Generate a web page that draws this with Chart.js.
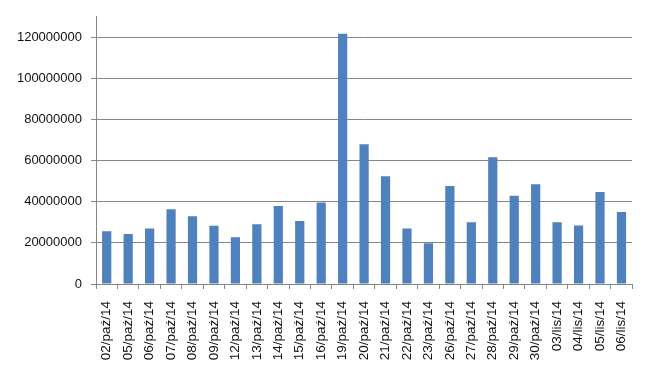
<!DOCTYPE html>
<html>
<head>
<meta charset="utf-8">
<script src="https://cdn.jsdelivr.net/npm/chart.js@4"></script>
<style>
html,body{margin:0;padding:0;background:#fff;}
#wrap{width:650px;height:375px;position:relative;}
</style>
</head>
<body>
<div id="wrap"><canvas id="c" width="650" height="375"></canvas></div>
<script>
const categories = ["02/paź/14","05/paź/14","06/paź/14","07/paź/14","08/paź/14","09/paź/14","12/paź/14","13/paź/14","14/paź/14","15/paź/14","16/paź/14","19/paź/14","20/paź/14","21/paź/14","22/paź/14","23/paź/14","26/paź/14","27/paź/14","28/paź/14","29/paź/14","30/paź/14","03/lis/14","04/lis/14","05/lis/14","06/lis/14"];
const values = [25700000,24300000,27000000,36400000,33000000,28300000,22700000,29100000,38000000,30600000,39700000,121700000,68000000,52400000,27000000,19800000,47700000,30100000,61700000,42900000,48500000,30100000,28500000,44700000,35000000];
const yTicks = [0,20000000,40000000,60000000,80000000,100000000,120000000];
const yMax = 130000000;

new Chart(document.getElementById('c'), {
  type: 'bar',
  data: {
    labels: categories,
    datasets: [{
      data: values,
      backgroundColor: '#4F81BD',
      borderWidth: 0,
      barPercentage: 0.43,
      categoryPercentage: 1.0
    }]
  },
  options: {
    responsive: false,
    animation: false,
    layout: { padding: { left: 0, right: 17, top: 16, bottom: 0 } },
    plugins: { legend: { display: false }, tooltip: { enabled: false } },
    scales: {
      x: {
        offset: true,
        grid: { display: true, drawOnChartArea: false, drawTicks: true, tickLength: 5, color: '#868686', offset: true },
        border: { display: true, color: '#868686', width: 1 },
        ticks: { color: '#111', font: { family: 'Liberation Sans', size: 13.5 }, minRotation: 90, maxRotation: 90, autoSkip: false, padding: 12 },
        afterFit: function(scale){ scale.height = 91; }
      },
      y: {
        min: 0,
        max: yMax,
        afterBuildTicks: function(scale){ scale.ticks = yTicks.map(v => ({value: v})); },
        grid: { color: '#868686', lineWidth: 1, tickLength: 5 },
        border: { display: true, color: '#868686', width: 1 },
        ticks: { color: '#111', font: { family: 'Liberation Sans', size: 13 }, padding: 9, callback: v => String(v) },
        afterFit: function(scale){ scale.width = 96; }
      }
    }
  }
});
</script>
</body>
</html>
